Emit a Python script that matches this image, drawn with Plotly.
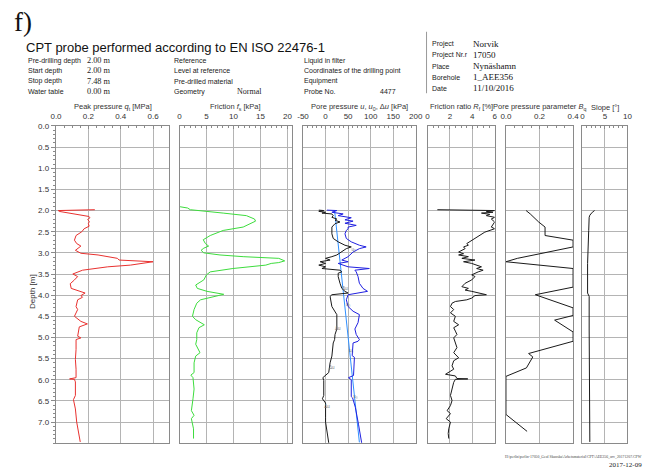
import plotly.graph_objects as go

W, H = 659, 468
SANS = "Liberation Sans, Arial, sans-serif"
SERIF = "Liberation Serif, Times New Roman, serif"

# ---------------- data ----------------
qt_depth = [1.98, 1.99, 2.00, 2.02, 2.05, 2.10, 2.14, 2.17, 2.21, 2.26, 2.31, 2.37, 2.43, 2.50,
            2.59, 2.70, 2.78, 2.84, 2.89, 2.94, 3.01, 3.05, 3.13, 3.17, 3.21, 3.29, 3.33, 3.41,
            3.50, 3.56, 3.64, 3.73, 3.84, 3.91, 3.95, 4.01, 4.05, 4.11, 4.27, 4.34, 4.50, 4.62,
            4.68, 4.75, 4.97, 5.01, 5.05, 5.28, 5.52, 5.75, 5.95, 5.98, 5.99, 6.05, 6.37, 6.47,
            6.69, 7.00, 7.47]
qt_val = [0.24, 0.10, 0.014, 0.02, 0.07, 0.16, 0.204, 0.21, 0.196, 0.206, 0.20, 0.205, 0.174, 0.16,
          0.124, 0.114, 0.128, 0.154, 0.134, 0.12, 0.154, 0.26, 0.38, 0.39, 0.60, 0.46, 0.32, 0.164,
          0.104, 0.134, 0.114, 0.088, 0.094, 0.144, 0.18, 0.154, 0.164, 0.134, 0.124, 0.134, 0.114, 0.154,
          0.194, 0.144, 0.134, 0.154, 0.124, 0.124, 0.12, 0.124, 0.124, 0.084, 0.114, 0.12, 0.12, 0.108,
          0.12, 0.128, 0.15]

fs_depth = [1.91, 1.94, 1.98, 2.02, 2.04, 2.06, 2.12, 2.20, 2.25, 2.31, 2.39, 2.47, 2.59, 2.69,
            2.78, 2.84, 2.89, 2.94, 3.00, 3.05, 3.09, 3.13, 3.19, 3.23, 3.25, 3.29, 3.37, 3.45,
            3.52, 3.64, 3.76, 3.84, 3.91, 3.98, 4.03, 4.11, 4.19, 4.34, 4.50, 4.58, 4.70, 4.77,
            4.89, 5.05, 5.16, 5.36, 5.44, 5.60, 5.83, 5.89, 5.95, 6.22, 6.45, 6.73, 6.84, 6.92,
            7.16, 7.39]
fs_val = [0.1, 1.5, 2.0, 4.5, 6.0, 8.1, 12.4, 13.9, 14.1, 13.0, 11.8, 8.1, 5.7, 4.4,
          4.8, 5.4, 4.5, 4.0, 4.5, 7.5, 11.8, 18.4, 19.5, 18.4, 17.0, 16.0, 9.9, 5.7,
          5.0, 4.5, 3.0, 3.3, 5.1, 8.2, 6.3, 3.9, 3.2, 2.7, 2.4, 3.0, 4.6, 3.6,
          3.2, 3.2, 3.0, 3.8, 3.0, 2.7, 2.7, 2.1, 2.5, 2.7, 2.5, 2.2, 2.7, 2.2,
          2.6, 2.6]

u_depth = [1.99, 2.00, 2.04, 2.08, 2.12, 2.17, 2.22, 2.25, 2.30, 2.35, 2.39, 2.43, 2.47, 2.55,
           2.66, 2.74, 2.82, 2.86, 2.90, 2.98, 3.05, 3.09, 3.17, 3.21, 3.25, 3.33, 3.37, 3.41,
           3.45, 3.56, 3.72, 3.84, 3.91, 3.95, 3.99, 4.11, 4.27, 4.38, 4.46, 4.65, 4.73, 4.80,
           4.93, 5.05, 5.09, 5.13, 5.43, 5.47, 5.90, 5.95, 6.00, 6.40, 6.43, 6.65, 7.05, 7.49]
u_val = [3, 25, 14, 39, 28, 57, 43, 61, 43, 68, 50, 50, 46, 43,
         46, 57, 75, 90, 75, 61, 54, 50, 36, 50, 28, 50, 97, 65,
         68, 72, 75, 83, 93, 72, 50, 46, 50, 61, 75, 72, 68, 65,
         68, 75, 72, 61, 59, 64, 62, 51, 57, 57, 60, 66, 73, 80]

u0_depth = [2.00, 7.48]
u0_val = [20, 75]

du_depth = [1.99, 2.00, 2.02, 2.04, 2.06, 2.08, 2.12, 2.16, 2.20, 2.23, 2.27, 2.31, 2.39, 2.47,
            2.55, 2.66, 2.74, 2.82, 2.86, 2.90, 2.98, 3.05, 3.09, 3.13, 3.17, 3.21, 3.25, 3.29,
            3.33, 3.37, 3.41, 3.45, 3.48, 3.56, 3.72, 3.84, 3.91, 3.95, 3.99, 4.03, 4.27, 4.38,
            4.46, 4.80, 4.93, 5.05, 5.13, 5.44, 5.60, 5.83, 5.95, 6.02, 6.37, 6.45, 6.55, 6.90,
            7.00, 7.49]
du_val = [-15, -4, -15, 0, -8, 14, 17, 14, 25, 21, 32, 21, 14, 14,
          14, 17, 28, 43, 57, 46, 36, 25, 14, 0, 10, -12, 0, -15,
          0, -8, 32, 36, 28, 28, 32, 36, 43, 50, 14, 10, 14, 21,
          25, 25, 21, 20, 17, 14, 10, 7, -6, -4, -4, -7, 0, 0,
          0, 7]

rf_depth = [1.98, 1.985, 2.00, 2.02, 2.04, 2.06, 2.09, 2.12, 2.16, 2.20, 2.27, 2.39, 2.43, 2.51,
            2.63, 2.70, 2.78, 2.82, 2.86, 2.90, 2.94, 2.98, 3.02, 3.05, 3.09, 3.13, 3.17, 3.21,
            3.25, 3.29, 3.33, 3.37, 3.41, 3.45, 3.52, 3.56, 3.64, 3.72, 3.80, 3.84, 3.88, 3.91,
            3.95, 3.99, 4.01, 4.07, 4.11, 4.15, 4.19, 4.27, 4.34, 4.42, 4.50, 4.62, 4.70, 4.77,
            4.85, 4.93, 5.01, 5.13, 5.24, 5.36, 5.48, 5.55, 5.67, 5.75, 5.87, 5.91, 5.97, 5.98,
            5.99, 6.06, 6.22, 6.37, 6.49, 6.61, 6.73, 6.80, 6.92, 7.00, 7.16, 7.27, 7.39]
rf_val = [0.88, 3.36, 6.0, 5.26, 5.85, 4.82, 5.56, 5.26, 6.0, 5.7, 6.0, 5.7, 6.0, 5.12,
          4.39, 3.95, 3.51, 3.65, 3.22, 3.36, 3.07, 2.78, 3.22, 2.78, 3.65, 3.07, 4.24, 3.22,
          3.95, 4.39, 4.82, 4.39, 4.97, 4.53, 3.95, 4.24, 3.95, 3.36, 3.07, 3.65, 3.36, 3.95,
          4.68, 5.26, 4.24, 3.95, 3.51, 2.49, 2.19, 2.05, 2.34, 2.05, 2.49, 2.34, 2.78, 2.34,
          2.49, 2.63, 2.34, 2.49, 2.63, 2.34, 2.78, 2.34, 2.19, 2.34, 1.61, 2.49, 2.63, 3.6,
          2.49, 2.34, 2.19, 2.05, 2.19, 2.05, 1.75, 2.05, 1.67, 2.05, 1.9, 1.85, 1.9]

bq_depth = [2.00, 2.08, 2.27, 2.39, 2.59, 2.70, 2.86, 3.13, 3.21, 3.37, 3.81, 3.99, 4.30, 4.48,
            4.59, 4.87, 5.09, 5.38, 5.46, 5.72, 5.92, 6.82, 7.22]
bq_val = [0.12, 0.145, 0.195, 0.233, 0.233, 0.40, 0.40, 0.068, 0.0, 0.40, 0.40, 0.175, 0.40, 0.40,
          0.29, 0.40, 0.40, 0.135, 0.16, 0.122, 0.0, 0.0, 0.126]

slope_depth = [2.00, 2.04, 2.11, 2.16, 2.47, 3.25, 3.95, 4.03, 4.80, 6.38, 7.47]
slope_val = [2.7, 2.2, 1.65, 1.5, 1.4, 1.15, 1.15, 1.5, 1.5, 1.6, 1.65]

# tick labels
qt_ticks = [0.0, 0.2, 0.4, 0.6]
qt_ticktext = ["0.0", "0.2", "0.4", "0.6"]
fs_ticks = [0, 5, 10, 15, 20]
fs_ticktext = ["0", "5", "10", "15", "20"]
u_ticks = [-50, 0, 50, 100, 150, 200]
u_ticktext = ["-50", "0", "50", "100", "150", "200"]
rf_ticks = [0, 2, 4, 6]
rf_ticktext = ["0", "2", "4", "6"]
bq_ticks = [0.0, 0.2, 0.4]
bq_ticktext = ["0.0", "0.2", "0.4"]
sl_ticks = [0, 5, 10]
sl_ticktext = ["0", "5", "10"]
depth_ticks = [0.0, 0.5, 1.0, 1.5, 2.0, 2.5, 3.0, 3.5, 4.0, 4.5, 5.0, 5.5, 6.0, 6.5, 7.0]
depth_ticktext = ["%.1f" % d for d in depth_ticks]

# curve labels on the pore-pressure panel
ulab_depth = [2.94, 3.86, 4.23, 4.79, 5.32, 5.71, 6.41, 6.63]
ulab_val = [62, 43, 50, 27, 57, 14, 66, 3]
ulab_text = ["u₂", "Δu", "u₀", "Δu", "u₀", "Δu", "u₀", "Δu"]

# ---------------- layout / style ----------------
panels = [  # (left px, right px, range, minor dtick, ticks, ticktext, title)
    (51, 166.5, [0, 0.7], 0.05, qt_ticks, qt_ticktext, "Peak pressure <i>q</i><sub>t</sub> [MPa]"),
    (177, 292, [0, 20.9], 1, fs_ticks, fs_ticktext, "Friction <i>f</i><sub>s</sub> [kPa]"),
    (303, 418, [-50, 200], 10, u_ticks, u_ticktext, "Pore pressure <i>u</i>, <i>u</i><sub>0</sub>, Δ<i>u</i> [kPa]"),
    (430, 498.5, [0, 6], 0.5, rf_ticks, rf_ticktext, "Friction ratio <i>R</i><sub>f</sub> [%]"),
    (510, 578.5, [0, 0.4], 0.05, bq_ticks, bq_ticktext, "Pore pressure parameter <i>B</i><sub>q</sub>"),
    (588, 634, [0, 10], 1, sl_ticks, sl_ticktext, "Slope [°]"),
]
TOP, BOT = 123, 443
GRID = "#b4b4b4"
FRAME = "#8a8a8a"
TXT = "#333333"


def fx(px):
    return px / W


def fy(py):
    return 1 - py / H


fig = go.Figure()

layout = dict(
    width=W, height=H, margin=dict(l=0, r=0, t=0, b=0),
    paper_bgcolor="white", plot_bgcolor="white", showlegend=False,
    font=dict(family=SANS, size=8, color=TXT),
)
annotations = []
for i, (l, r, rng, mdt, tv, tt, title) in enumerate(panels, start=1):
    sx = "" if i == 1 else str(i)
    layout["xaxis" + sx] = dict(
        domain=[fx(l), fx(r)], range=rng, anchor="y" + sx, side="top",
        tickvals=tv, ticktext=tt, showgrid=True, gridcolor=GRID, gridwidth=1,
        zeroline=False, showline=True, mirror=True, linecolor=FRAME, linewidth=1.3,
        ticks="inside", ticklen=3, tickcolor=FRAME, ticklabelstandoff=3,
        minor=dict(dtick=mdt, ticks="inside", ticklen=2, tickcolor=FRAME, showgrid=False),
        tickfont=dict(size=8, color=TXT, family=SANS), fixedrange=True,
    )
    ya = dict(
        domain=[fy(BOT), fy(TOP)], range=[7.5, 0], anchor="x" + sx,
        tickvals=depth_ticks, ticktext=depth_ticktext, showgrid=True, gridcolor=GRID, gridwidth=1,
        zeroline=False, showline=True, mirror=True, linecolor=FRAME, linewidth=1.3,
        fixedrange=True,
    )
    if i == 1:
        ya.update(ticks="outside", ticklen=4, tickcolor=FRAME, showticklabels=True,
                  tickfont=dict(size=8, color=TXT, family=SANS),
                  minor=dict(dtick=0.1, ticks="outside", ticklen=2, tickcolor=FRAME, showgrid=False))
    else:
        ya.update(ticks="", showticklabels=False)
    layout["yaxis" + sx] = ya
    annotations.append(dict(x=fx((l + r) / 2), y=fy(104), xref="paper", yref="paper",
                            text=title, showarrow=False, xanchor="center", yanchor="middle",
                            borderpad=0, font=dict(size=7.5, color=TXT, family=SANS)))

# traces
fig.add_trace(go.Scatter(x=qt_val, y=qt_depth, mode="lines", xaxis="x", yaxis="y",
                         line=dict(color="#e8312f", width=1)))
fig.add_trace(go.Scatter(x=fs_val, y=fs_depth, mode="lines", xaxis="x2", yaxis="y2",
                         line=dict(color="#3ddc3d", width=1)))
fig.add_trace(go.Scatter(x=u0_val, y=u0_depth, mode="lines", xaxis="x3", yaxis="y3",
                         line=dict(color="#2f8fff", width=1)))
fig.add_trace(go.Scatter(x=du_val, y=du_depth, mode="lines", xaxis="x3", yaxis="y3",
                         line=dict(color="#1a1a1a", width=1)))
fig.add_trace(go.Scatter(x=u_val, y=u_depth, mode="lines", xaxis="x3", yaxis="y3",
                         line=dict(color="#2020e0", width=1)))
fig.add_trace(go.Scatter(x=ulab_val, y=ulab_depth, mode="text", text=ulab_text, xaxis="x3", yaxis="y3",
                         textfont=dict(size=4.5, color="#777777", family=SANS)))
fig.add_trace(go.Scatter(x=rf_val, y=rf_depth, mode="lines", xaxis="x4", yaxis="y4",
                         line=dict(color="#1a1a1a", width=1)))
fig.add_trace(go.Scatter(x=bq_val, y=bq_depth, mode="lines", xaxis="x5", yaxis="y5",
                         line=dict(color="#1a1a1a", width=1)))
fig.add_trace(go.Scatter(x=slope_val, y=slope_depth, mode="lines", xaxis="x6", yaxis="y6",
                         line=dict(color="#1a1a1a", width=1)))


def ann(px, py, text, size=7, family=SANS, xanchor="left", color="#222222", angle=0):
    annotations.append(dict(x=fx(px), y=fy(py), xref="paper", yref="paper", text=text,
                            showarrow=False, xanchor=xanchor, yanchor="middle", textangle=angle,
                            borderpad=0, font=dict(size=size, family=family, color=color)))


# header
ann(7, 18, "f)", size=27, family=SERIF, color="#111111")
ann(19, 44, "CPT probe performed according to EN ISO 22476-1", size=13, color="#111111")
rows = [57, 67.3, 77.7, 88.3]
col1 = ["Pre-drilling depth", "Start depth", "Stop depth", "Water table"]
col1v = ["2.00 m", "2.00 m", "7.48 m", "0.00 m"]
col2 = ["Reference", "Level at reference", "Pre-drilled material", "Geometry"]
col3 = ["Liquid in filter", "Coordinates of the drilling point", "Equipment", "Probe No."]
for k, yy in enumerate(rows):
    ann(21, yy, col1[k], size=7)
    ann(82, yy, col1v[k], size=8.3, family=SERIF)
    ann(170, yy, col2[k], size=7)
    ann(303, yy, col3[k], size=7)
ann(235, rows[3], "Normal", size=8, family=SERIF)
ann(380, rows[3], "4477", size=7)

rrows = [40, 51.5, 63, 74, 85]
rlab = ["Project", "Project Nr.r", "Place", "Borehole", "Date"]
rval = ["Norvik", "17050", "Nynäshamn", "1_AEE356", "11/10/2016"]
for k, yy in enumerate(rrows):
    ann(434, yy, rlab[k], size=7)
    ann(475, yy, rval[k], size=9, family=SERIF, color="#111111")

ann(27, 290, "Depth [m]", size=8, xanchor="center", angle=-90, color=TXT)

ann(650, 457, r"H:\perlin\perlin-17050_Geol Skanska\Arbetsmaterial\CPT\AEE356_orv_20171207.CPW",
    size=3.8, family=SERIF, xanchor="right", color="#444444")
ann(650, 464.5, "2017-12-09", size=7, family=SERIF, xanchor="right", color="#222222")

layout["annotations"] = annotations
layout["shapes"] = [dict(type="line", xref="paper", yref="paper", x0=fx(429), x1=fx(429),
                         y0=fy(28), y1=fy(90), line=dict(color="#999999", width=1))]
fig.update_layout(**layout)
fig.write_html("out.html", config={"displayModeBar": False})
